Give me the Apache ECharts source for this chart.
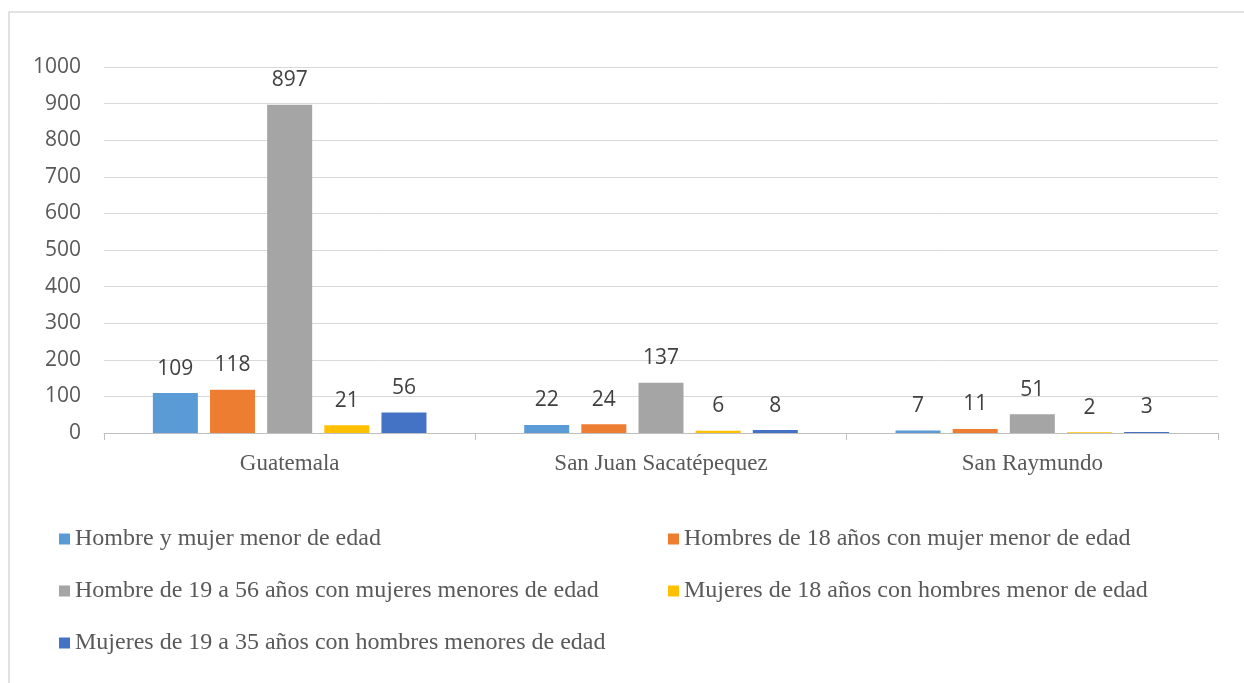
<!doctype html>
<html>
<head>
<meta charset="utf-8">
<script src="https://cdn.jsdelivr.net/npm/echarts@6/dist/echarts.min.js"></script>
<style>
  html, body { margin: 0; padding: 0; background: #fff; }
  #main { width: 1244px; height: 683px; }
</style>
</head>
<body>
<div id="main"></div>
<script>
  var categories = ['Guatemala', 'San Juan Sacatépequez', 'San Raymundo'];
  var seriesNames = [
    'Hombre y mujer menor de edad',
    'Hombres de 18 años con mujer menor de edad',
    'Hombre de 19 a 56 años con mujeres menores de edad',
    'Mujeres de 18 años con hombres menor de edad',
    'Mujeres de 19 a 35 años con hombres menores de edad'
  ];
  var hombreMujerMenor = [109, 22, 7];
  var hombres18 = [118, 24, 11];
  var hombre19a56 = [897, 137, 51];
  var mujeres18 = [21, 6, 2];
  var mujeres19a35 = [56, 8, 3];
  var colors = ['#5B9BD5', '#ED7D31', '#A5A5A5', '#FFC000', '#4472C4'];

  var values = [hombreMujerMenor, hombres18, hombre19a56, mujeres18, mujeres19a35];

  var myChart = echarts.init(document.getElementById('main'));

  var series = values.map(function (v, i) {
    return {
      name: seriesNames[i],
      type: 'bar',
      data: v,
      barWidth: 45,
      barGap: '27%',
      itemStyle: { color: colors[i] },
      label: {
        show: true,
        position: 'top',
        distance: 14,
        color: '#404040',
        fontFamily: 'Open Sans',
        fontSize: 21
      }
    };
  });

  var legendText = { color: '#595959', fontFamily: 'Liberation Serif', fontSize: 24 };

  var option = {
    animation: false,
    color: colors,
    graphic: [{
      type: 'rect',
      shape: { x: 9, y: 12, width: 1240, height: 700 },
      style: { fill: 'none', stroke: '#d9d9d9', lineWidth: 1.5 },
      silent: true
    }],
    grid: { left: 104, right: 26, top: 67, bottom: 250 },
    legend: [{
      left: 54,
      top: 522,
      orient: 'vertical',
      itemWidth: 11,
      itemHeight: 11,
      itemGap: 28,
      icon: 'rect',
      data: [seriesNames[0], seriesNames[2], seriesNames[4]],
      textStyle: legendText
    }, {
      left: 663,
      top: 522,
      orient: 'vertical',
      itemWidth: 11,
      itemHeight: 11,
      itemGap: 28,
      icon: 'rect',
      data: [seriesNames[1], seriesNames[3]],
      textStyle: legendText
    }],
    xAxis: {
      type: 'category',
      data: categories,
      axisLine: { lineStyle: { color: '#bfbfbf' } },
      axisTick: { show: true, length: 7, lineStyle: { color: '#bfbfbf' } },
      axisLabel: {
        margin: 19,
        color: '#595959',
        fontFamily: 'Liberation Serif',
        fontSize: 23
      }
    },
    yAxis: {
      type: 'value',
      min: 0,
      max: 1000,
      interval: 100,
      axisLine: { show: false },
      axisTick: { show: false },
      splitLine: { lineStyle: { color: '#d9d9d9' } },
      axisLabel: {
        margin: 23,
        color: '#595959',
        fontFamily: 'Open Sans',
        fontSize: 21,
        formatter: function (v) { return String(v); }
      }
    },
    series: series
  };

  myChart.setOption(option);
</script>
</body>
</html>
